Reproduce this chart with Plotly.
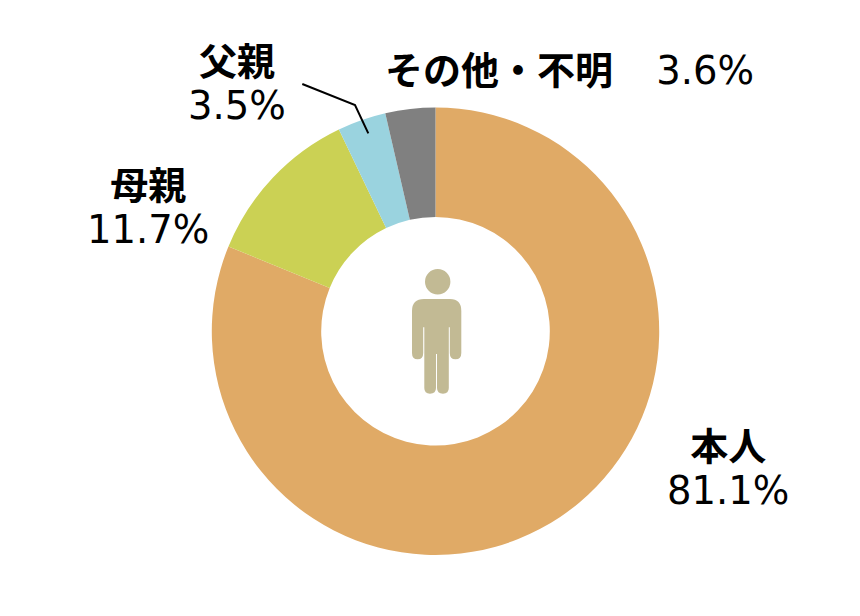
import plotly.graph_objects as go

categories = ["本人", "母親", "父親", "その他・不明"]
values = [81.1, 11.7, 3.5, 3.6]
colors = ["#E0AA66", "#CBD154", "#9AD3DF", "#808080"]

W, H = 860, 616
CX, CY, R = 435.5, 331.2, 223.7

def px(x):
    return x / W

def py(y):
    return 1 - y / H

fig = go.Figure(go.Pie(
    labels=categories, values=values, sort=False, direction="clockwise",
    rotation=0, hole=0.511, textinfo="none", showlegend=False, hoverinfo="label+value",
    marker=dict(colors=colors, line=dict(width=0)),
    domain=dict(x=[px(CX - R), px(CX + R)], y=[py(CY + R), py(CY - R)]),
))

ICON = "#C2BA94"
shapes = []
# head
shapes.append(dict(type="circle", xref="paper", yref="paper", x0=px(425), x1=px(450.4),
                   y0=py(294.4), y1=py(269), fillcolor=ICON, line_width=0))
def P(*pts):
    s = ""
    for cmd, *c in pts:
        s += cmd + " ".join(f"{px(c[i]):.5f},{py(c[i+1]):.5f}" for i in range(0, len(c), 2)) + " "
    return s + "Z"
# body with arms and legs
body = P(
    ("M", 424, 299), ("L", 450, 299), ("Q", 461.3, 299, 461.3, 311),
    ("L", 461.3, 353), ("Q", 461.3, 359.3, 455.5, 359.3), ("Q", 449.8, 359.3, 449.8, 353),
    ("L", 449.8, 327.3), ("L", 448.8, 327.3),
    ("L", 448.8, 388), ("Q", 448.8, 393.7, 443, 393.7), ("Q", 437, 393.7, 437, 388),
    ("L", 437, 354), ("L", 436, 354),
    ("L", 436, 388), ("Q", 436, 393.7, 430, 393.7), ("Q", 424.3, 393.7, 424.3, 388),
    ("L", 424.3, 327.3), ("L", 423.2, 327.3),
    ("L", 423.2, 353), ("Q", 423.2, 359.3, 417.6, 359.3), ("Q", 412, 359.3, 412, 353),
    ("L", 412, 311), ("Q", 412, 299, 424, 299),
)
shapes.append(dict(type="path", xref="paper", yref="paper", path=body, fillcolor=ICON, line_width=0))
# leader line
leader = "M" + " L".join(f"{px(x):.5f},{py(y):.5f}" for x, y in [(302.3, 84), (355, 105), (368.3, 133.3)])
shapes.append(dict(type="path", xref="paper", yref="paper", path=leader,
                   line=dict(color="#000000", width=2), fillcolor="rgba(0,0,0,0)"))

def kanji(t):
    return f'<span style="font-family:Noto Sans CJK JP;font-size:38px;font-weight:700">{t}</span>'

def number(t):
    return f'<span style="font-family:DejaVu Sans;font-size:38.5px">{t}</span>'

def note(text, x, y):
    return dict(text=text, x=px(x), y=py(y), xref="paper", yref="paper",
                showarrow=False, xanchor="center", yanchor="middle", align="center",
                font=dict(family="DejaVu Sans", size=34, color="#000000"))

pct = [f"{v}%" for v in values]
anns = [
    note(kanji(categories[0]) + "<br>" + number(pct[0]), 728, 464),
    note(kanji(categories[1]) + "<br>" + number(pct[1]), 148, 203.5),
    note(kanji(categories[2]) + "<br>" + number(pct[2]), 236.5, 79),
    note(kanji(categories[3]) + "    " + number(pct[3]), 569.5, 68),
]

fig.update_layout(width=W, height=H, autosize=False, margin=dict(l=0, r=0, t=0, b=0),
                  paper_bgcolor="#FFFFFF", plot_bgcolor="#FFFFFF",
                  shapes=shapes, annotations=anns)
fig.write_html("out.html", config=dict(displayModeBar=False),
               post_script="document.body.style.margin='0';document.body.style.overflow='hidden';")
